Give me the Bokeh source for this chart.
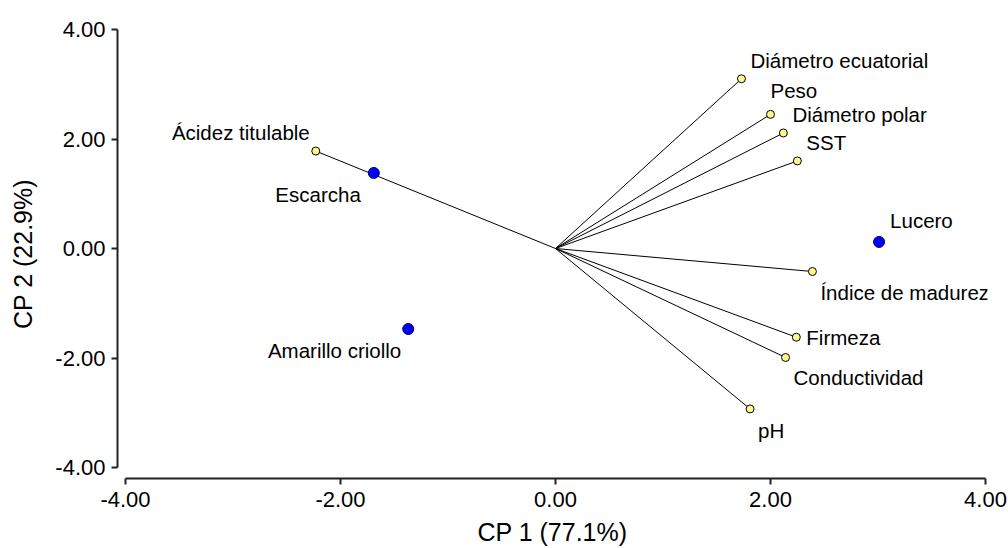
from bokeh.plotting import figure
from bokeh.models import ColumnDataSource, FixedTicker, PrintfTickFormatter
from bokeh.core.properties import value
from bokeh.embed import file_html
from bokeh.resources import INLINE

# ---- data ----
var_names = ["Diámetro ecuatorial", "Peso", "Diámetro polar", "SST",
             "Índice de madurez", "Firmeza", "Conductividad", "pH",
             "Ácidez titulable"]
var_cp1 = [1.73, 2.00, 2.12, 2.25, 2.39, 2.24, 2.14, 1.81, -2.23]
var_cp2 = [3.10, 2.45, 2.11, 1.60, -0.42, -1.62, -1.99, -2.93, 1.78]

obs_names = ["Lucero", "Escarcha", "Amarillo criollo"]
obs_cp1 = [3.01, -1.69, -1.37]
obs_cp2 = [0.12, 1.38, -1.47]

tick_values = [-4, -2, 0, 2, 4]
x_title = "CP 1 (77.1%)"
y_title = "CP 2 (22.9%)"

# ---- label styling (pixel offsets relative to each marker) ----
var_align = ["left", "left", "left", "left", "left", "left", "left", "left", "right"]
var_dx = [9, 0, 9, 9, 8, 10, 8, 8, -6]
var_dy = [-18, -24, -18, -18, 21, 0, 20, 22, -19]
obs_align = ["left", "right", "right"]
obs_dx = [11, -13, -7]
obs_dy = [-21, 22, 22]

FONT = "Liberation Sans"

vsrc = ColumnDataSource(dict(x=var_cp1, y=var_cp2, x0=[0] * len(var_cp1),
                             y0=[0] * len(var_cp2), name=var_names,
                             align=var_align, dx=var_dx, dy=var_dy))
osrc = ColumnDataSource(dict(x=obs_cp1, y=obs_cp2, name=obs_names,
                             align=obs_align, dx=obs_dx, dy=obs_dy))

p = figure(width=1008, height=548, output_backend="svg", toolbar_location=None,
           x_range=(-4.0744, 4.0186), y_range=(-4.2005, 4.0),
           min_border_left=117, min_border_right=21,
           min_border_top=29, min_border_bottom=69)
p.outline_line_color = None
p.grid.visible = False
p.background_fill_color = "white"
p.border_fill_color = "white"

p.segment(x0="x0", y0="y0", x1="x", y1="y", source=vsrc,
          line_color="black", line_width=1)
p.scatter("x", "y", source=vsrc, size=8, fill_color="#fafa8c",
          line_color="black", line_width=1)
p.scatter("x", "y", source=osrc, size=11, fill_color="#0000ff",
          line_color="#000060", line_width=1)

for src in (vsrc, osrc):
    p.text(x="x", y="y", text="name", source=src, x_offset="dx", y_offset="dy",
           text_align="align", text_baseline="middle",
           text_font=value(FONT), text_font_size="20.5px", text_color="black")

for ax, title in ((p.xaxis, x_title), (p.yaxis, y_title)):
    ax.ticker = FixedTicker(ticks=tick_values)
    ax.formatter = PrintfTickFormatter(format="%.2f")
    ax.bounds = (tick_values[0], tick_values[-1])
    ax.axis_label = title
    ax.axis_label_text_font = FONT
    ax.axis_label_text_font_size = "25px"
    ax.axis_label_text_font_style = "normal"
    ax.axis_label_text_color = "black"
    ax.major_label_text_font = FONT
    ax.major_label_text_font_size = "22px"
    ax.major_label_text_color = "black"
    ax.axis_line_color = "#222222"
    ax.axis_line_width = 2
    ax.major_tick_line_color = "#222222"
    ax.major_tick_line_width = 2
    ax.major_tick_out = 6
    ax.major_tick_in = 0
    ax.minor_tick_line_color = None

p.xaxis.major_label_standoff = 7
p.xaxis.axis_label_standoff = 8
p.yaxis.major_label_standoff = 6
p.yaxis.axis_label_standoff = 15

open("out.html", "w").write(file_html(p, INLINE))
